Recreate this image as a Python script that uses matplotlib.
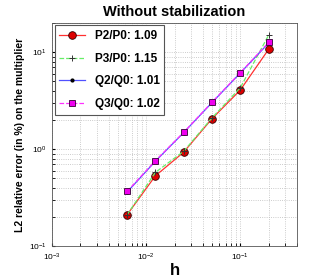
import matplotlib
matplotlib.use('Agg')
import matplotlib.pyplot as plt

plt.rcParams['font.family'] = ['Liberation Sans', 'DejaVu Sans']
plt.rcParams['mathtext.fontset'] = 'custom'
plt.rcParams['mathtext.rm'] = 'Liberation Sans'

h = [0.00625, 0.0125, 0.025, 0.05, 0.1, 0.2]
p2p0 = [0.21, 0.53, 0.93, 2.06, 4.07, 10.7]
p3p0 = [0.21, 0.575, 0.95, 2.1, 4.3, 15.0]
q2q0 = [0.36, 0.75, 1.48, 3.02, 6.1, 12.4]
q3q0 = [0.366, 0.76, 1.49, 3.05, 6.15, 12.6]
labels = ['P2/P0: 1.09', 'P3/P0: 1.15', 'Q2/Q0: 1.01', 'Q3/Q0: 1.02']

fig = plt.figure(figsize=(3.2, 2.8), dpi=100)
ax = fig.add_axes([0.163, 0.121, 0.765, 0.797])

ax.loglog(h, p2p0, color='#ff3030', ls='-', marker='o', lw=0.9, ms=5.5, mfc='#dd0000', mec='#330000', mew=0.6, label=labels[0])
ax.loglog(h, p3p0, color='#66ee66', ls='--', marker='+', lw=0.9, ms=5, mec='#333333', mew=0.7, label=labels[1])
ax.loglog(h, q2q0, color='#5050ff', ls='-', marker='.', lw=0.9, ms=4, mfc='black', mec='black', label=labels[2])
ax.loglog(h, q3q0, color='#ff30ff', ls='--', marker='s', lw=0.9, ms=5, mfc='#ee00ee', mec='#330033', mew=0.6, label=labels[3])

ax.set_xlim(1e-3, 0.4)
ax.set_ylim(0.1, 20)
ax.grid(True, which='both', ls=':', color='#bbbbbb', lw=0.6)
ax.tick_params(labelsize=6, length=2, which='both', direction='in', pad=4)
for s in ax.spines.values():
    s.set_color('#555555')
    s.set_linewidth(0.6)

ax.set_title('Without stabilization', fontsize=10.5, fontweight='bold', pad=5)
ax.set_xlabel('h', fontsize=12, fontweight='bold', labelpad=0)
ax.set_ylabel('L2 relative error (in %) on the multiplier', fontsize=7.5, fontweight='bold', labelpad=3)

leg = ax.legend(loc='upper left', prop={'weight': 'bold', 'size': 8.5}, fancybox=False,
                edgecolor='#555555', framealpha=1, handlelength=2.2, labelspacing=0.9,
                borderaxespad=0.2)
leg.get_frame().set_linewidth(0.8)

fig.savefig('out.png', dpi=100)
